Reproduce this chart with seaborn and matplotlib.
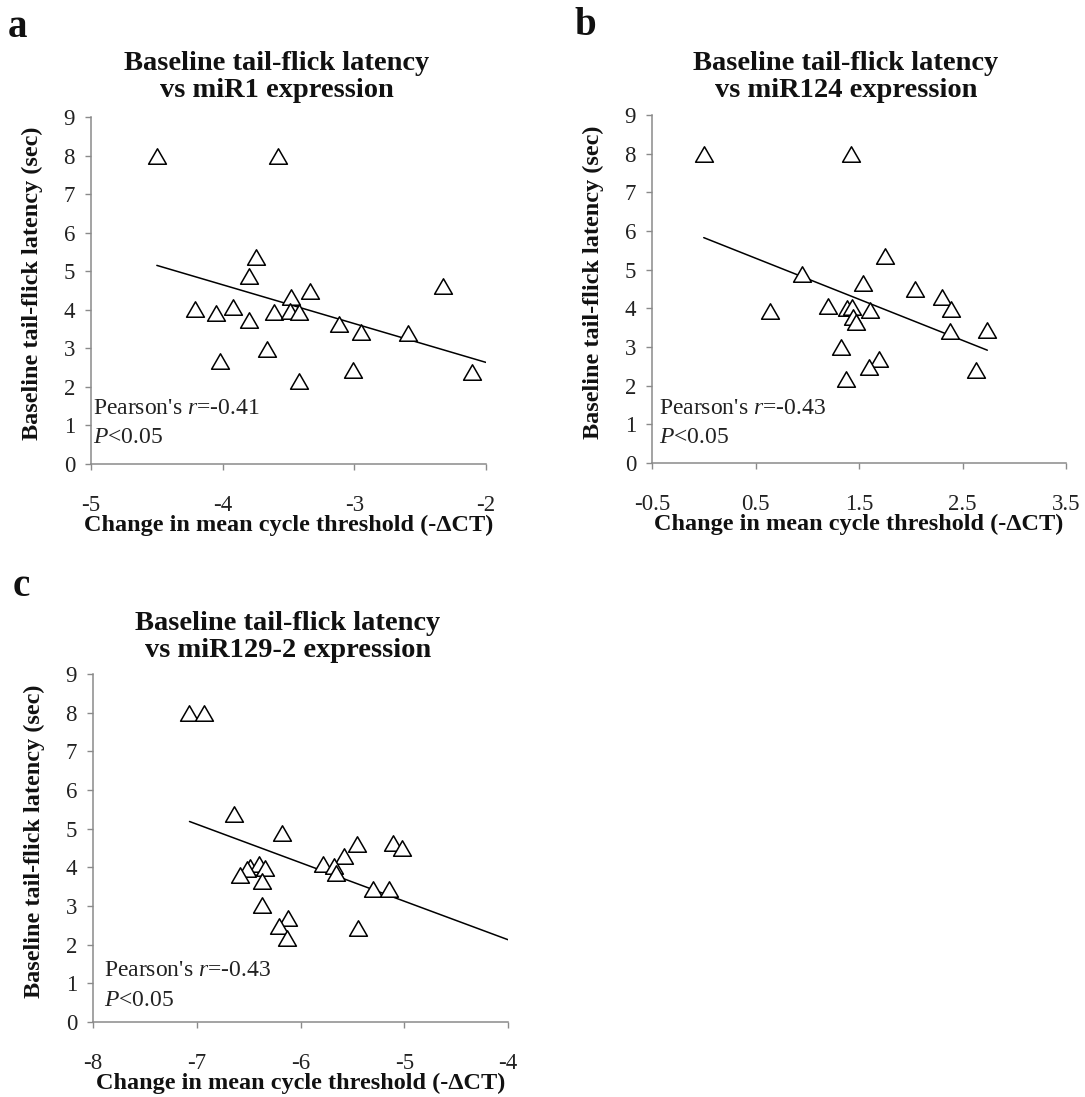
import numpy as np
import pandas as pd
import matplotlib
matplotlib.use("Agg")
import matplotlib.pyplot as plt
from matplotlib.path import Path
import seaborn as sns

# ---------------- data ----------------
titles = ["Baseline tail-flick latency\nvs miR1 expression",
          "Baseline tail-flick latency\nvs miR124 expression",
          "Baseline tail-flick latency\nvs miR129-2 expression"]
letters = ["a", "b", "c"]
pearson_r = ["-0.41", "-0.43", "-0.43"]
p_text = "<0.05"

xa = [-4.50, -3.58, -3.75, -3.80, -2.33, -3.34, -3.48, -4.21, -3.92, -4.05, -3.61,
      -3.49, -3.42, -3.80, -3.12, -2.95, -2.59, -3.66, -4.02, -3.01, -3.42, -2.11]
ya = [8.0, 8.0, 5.36, 4.88, 4.62, 4.49, 4.32, 4.03, 4.06, 3.91, 3.95,
      3.97, 3.93, 3.73, 3.62, 3.42, 3.41, 2.98, 2.67, 2.45, 2.15, 2.39]

xb = [0.00, 1.42, 1.755, 0.95, 1.54, 2.045, 2.30, 0.64, 1.20, 1.38, 1.43,
      1.61, 2.39, 1.44, 1.47, 2.38, 2.74, 1.33, 1.69, 1.60, 2.63, 1.37]
yb = [8.0, 8.0, 5.36, 4.90, 4.65, 4.50, 4.30, 3.93, 4.07, 4.00, 4.04,
      3.96, 3.97, 3.78, 3.64, 3.41, 3.44, 3.00, 2.69, 2.49, 2.40, 2.18]

xc = [-7.07, -6.93, -6.64, -6.18, -5.46, -5.11, -5.02, -5.58, -5.78, -5.68, -5.66, -6.49,
      -6.40, -6.34, -6.52, -6.58, -6.37, -5.30, -5.15, -6.37, -6.12, -6.21, -6.13, -5.45]
yc = [8.0, 8.0, 5.38, 4.90, 4.60, 4.64, 4.51, 4.29, 4.08, 4.03, 3.86, 4.02,
      4.08, 3.97, 3.95, 3.79, 3.65, 3.43, 3.45, 3.02, 2.69, 2.48, 2.17, 2.43]

xticks_a = [-5, -4, -3, -2]
xticks_b = [-0.5, 0.5, 1.5, 2.5, 3.5]
xticks_c = [-8, -7, -6, -5, -4]
yticks = list(range(0, 10))

xlabel = "Change in mean cycle threshold (-ΔCT)"
ylabel = "Baseline tail-flick latency (sec)"

# ---------------- style ----------------
sns.set_theme(style="white")
plt.rcParams["font.family"] = ["Liberation Serif", "DejaVu Serif"]
plt.rcParams["mathtext.fontset"] = "custom"
plt.rcParams["mathtext.rm"] = "Liberation Serif"
plt.rcParams["mathtext.it"] = "Liberation Serif:italic"

W, H = 1085, 1097
fig = plt.figure(figsize=(W / 100, H / 100), dpi=100)

def px_rect(left, right, top, bottom):
    return [left / W, (H - bottom) / H, (right - left) / W, (bottom - top) / H]

panels = [
    dict(x=xa, y=ya, xticks=xticks_a, rect=px_rect(91, 486, 117, 464), trend_to_axis=True,
         title_xy=(277, 77), letter_xy=(8, 37), ann=(0.004, 0.161, 0.075)),
    dict(x=xb, y=yb, xticks=xticks_b, rect=px_rect(652, 1066, 115, 463), trend_to_axis=False,
         title_xy=(846, 77), letter_xy=(574, 35), ann=(0.017, 0.158, 0.072)),
    dict(x=xc, y=yc, xticks=xticks_c, rect=px_rect(93, 508, 674, 1022), trend_to_axis=True,
         title_xy=(288, 637), letter_xy=(13, 596), ann=(0.027, 0.147, 0.063)),
]

tri = Path([(-1, -0.866), (1, -0.866), (0, 0.866), (-1, -0.866)], closed=True)
spine_col = "#8a8a8a"

for i, p in enumerate(panels):
    ax = fig.add_axes(p["rect"])
    df = pd.DataFrame({"x": p["x"], "y": p["y"]})
    sns.scatterplot(data=df, x="x", y="y", ax=ax, marker=tri, s=165,
                    facecolor="white", edgecolor="black", linewidth=1.1, zorder=3)
    xmin_ax, xmax_ax = p["xticks"][0], p["xticks"][-1]
    slope, icpt = np.polyfit(df["x"], df["y"], 1)
    x_end = xmax_ax if p["trend_to_axis"] else df["x"].max()
    fit = pd.DataFrame({"x": [df["x"].min(), x_end]})
    fit["y"] = slope * fit["x"] + icpt
    sns.lineplot(data=fit, x="x", y="y", ax=ax, color="black", linewidth=1.1, zorder=2)

    ax.set_xlim(xmin_ax, xmax_ax)
    ax.set_ylim(0, 9)
    ax.set_xticks(p["xticks"])
    ax.set_xticklabels([f"{t:g}" for t in p["xticks"]])
    ax.set_yticks(yticks)
    for s in ["top", "right"]:
        ax.spines[s].set_visible(False)
    for s in ["left", "bottom"]:
        ax.spines[s].set_color(spine_col)
        ax.spines[s].set_linewidth(1.1)
    ax.tick_params(axis="y", direction="out", length=4.5, width=1.0, color=spine_col,
                   labelsize=16.5, labelcolor="#222222", pad=7, left=True)
    ax.tick_params(axis="x", direction="out", length=4.5, width=1.0, color=spine_col,
                   labelsize=16.5, labelcolor="#222222", pad=18, bottom=True)

    axw = p["rect"][2] * W
    axh = p["rect"][3] * H
    ax.set_xlabel(xlabel, fontsize=17.5, fontweight="bold", color="#111111", va="center")
    ax.xaxis.set_label_coords(0.5, -61 / axh)
    ax.set_ylabel(ylabel, fontsize=17.5, fontweight="bold", color="#111111", va="center")
    ax.yaxis.set_label_coords(-59 / axw, 0.52)

    ax.grid(False)
    ax.set_facecolor("white")

    ax_x, l1, l2 = p["ann"]
    ax.text(ax_x, l1, "Pearson's $\\mathit{r}$=" + pearson_r[i], transform=ax.transAxes,
            fontsize=17, ha="left", va="center", color="#222222")
    ax.text(ax_x, l2, "$\\mathit{P}$" + p_text, transform=ax.transAxes,
            fontsize=17, ha="left", va="center", color="#222222")

    tx, ty = p["title_xy"]
    fig.text(tx / W, 1 - ty / H, titles[i], ha="center", va="center", fontsize=20.5,
             fontweight="bold", linespacing=1.1, color="#111111")
    lx, ly = p["letter_xy"]
    fig.text(lx / W, 1 - ly / H, letters[i], ha="left", va="baseline", fontsize=28,
             fontweight="bold", color="#111111")

fig.savefig("out.png", dpi=100, facecolor="white")
